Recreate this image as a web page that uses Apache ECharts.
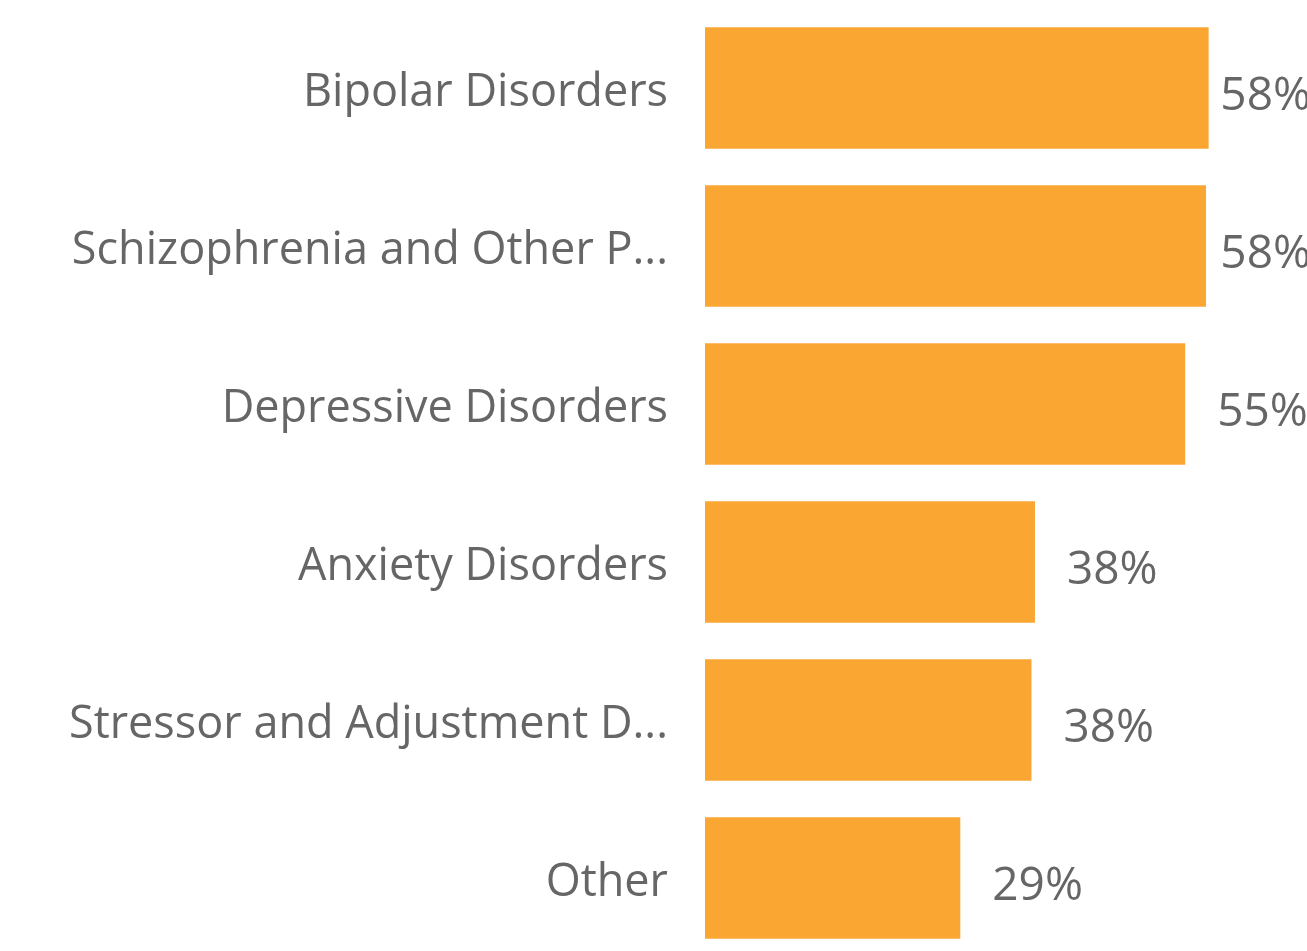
<!DOCTYPE html>
<html lang="en">
<head>
    <meta charset="UTF-8">
    <title>Disorders</title>
    <script src="https://cdn.jsdelivr.net/npm/echarts@6/dist/echarts.min.js"></script>
    <style>
        html, body { margin: 0; padding: 0; background: #fff; }
        #main { width: 1307px; height: 951px; }
    </style>
</head>
<body>
<div id="main"></div>
<script>
    // categories, top to bottom
    var categories = [
        'Bipolar Disorders',
        'Schizophrenia and Other Psychotic Disorders',
        'Depressive Disorders',
        'Anxiety Disorders',
        'Stressor and Adjustment Disorders',
        'Other'
    ];
    // percent values
    var values = [58.0, 57.7, 55.3, 38.0, 37.6, 29.4];

    var font = "'Segoe UI', 'Open Sans', 'Noto Sans', sans-serif";
    var chart = echarts.init(document.getElementById('main'));

    var option = {
        animation: false,
        grid: {
            left: 705,
            top: 9,
            width: 521,   // 60% -> 521px
            height: 948,
            outerBoundsMode: 'none',
            containLabel: false
        },
        xAxis: {
            type: 'value',
            min: 0,
            max: 60,
            show: false
        },
        yAxis: {
            type: 'category',
            inverse: true,
            data: categories,
            axisLine: { show: false },
            axisTick: { show: false },
            axisLabel: {
                margin: 37,
                color: '#666666',
                fontSize: 45,
                fontFamily: font,
                width: 610,
                overflow: 'truncate',
                ellipsis: '...',
                formatter: function (v) { return '{a|' + v + '}'; },
                rich: {
                    a: {
                        color: '#666666',
                        fontSize: 45,
                        fontFamily: font,
                        padding: [10, 0, 0, 0]
                    }
                }
            }
        },
        series: [{
            type: 'bar',
            data: values,
            barCategoryGap: '23%',
            itemStyle: { color: '#F9A633' },
            label: {
                show: true,
                position: 'right',
                distance: 32,
                color: '#666666',
                fontSize: 46,
                fontFamily: font,
                formatter: function (p) { return Math.round(p.value) + '%'; }
            }
        }],
        // nudge value labels down a little and pull the longest ones back near the edge
        labelLayout: function (params) {
            var r = params.labelRect;
            var limit = chart.getWidth() - r.width + 4;
            var res = { dy: 9 };
            if (r.x > limit) res.dx = limit - r.x;
            return res;
        }
    };
    chart.setOption(option);
</script>
</body>
</html>
